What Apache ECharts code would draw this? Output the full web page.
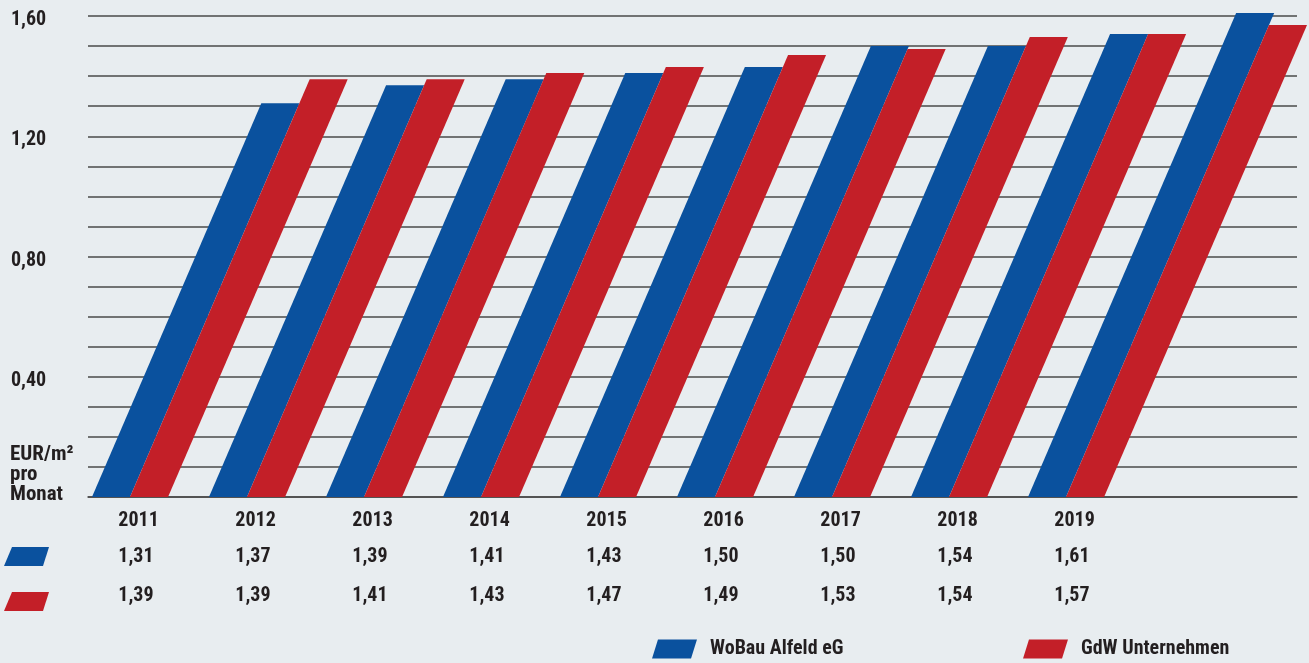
<!DOCTYPE html>
<html>
<head>
<meta charset="utf-8">
<script src="https://cdn.jsdelivr.net/npm/echarts@6/dist/echarts.min.js"></script>
<style>
html,body{margin:0;padding:0;background:#e8edf0;}
#c{width:1309px;height:663px;}
</style>
</head>
<body>
<div id="c"></div>
<script>
const years = ['2011','2012','2013','2014','2015','2016','2017','2018','2019'];
const wobau = [1.31, 1.37, 1.39, 1.41, 1.43, 1.50, 1.50, 1.54, 1.61];
const gdw   = [1.39, 1.39, 1.41, 1.43, 1.47, 1.49, 1.53, 1.54, 1.57];
const seriesNames = ['WoBau Alfeld eG', 'GdW Unternehmen'];
const yTickLabels = {0.4: '0,40', 0.8: '0,80', 1.2: '1,20', 1.6: '1,60'};
const unitLabel = 'EUR/m²\npro\nMonat';

const BLUE = '#0a519e';
const RED = '#c31f28';
const TXT = '#231f20';
const FONT = "'Liberation Sans Narrow', 'Roboto Condensed', 'DejaVu Sans Condensed', 'Noto Sans', sans-serif";

function fmt(v){ return v.toFixed(2).replace('.', ','); }

function makeRender(side, rowOffset, withYears){
  return function(params, api){
    const i = api.value(0), v = api.value(1);
    const base = api.coord([i, 0]);
    const top = api.coord([i, v]);
    const unit = api.size([1, 0])[0];
    const w = unit * 0.325;
    const slope = 0.43;
    const h = base[1] - top[1];
    const dx = h * slope;
    const x0 = side === 0 ? base[0] - w : base[0];
    const children = [{
      type: 'polygon',
      shape: {points: [[x0, base[1]], [x0 + w, base[1]], [x0 + w + dx, top[1]], [x0 + dx, top[1]]]},
      style: {fill: api.visual('color')}
    }, {
      type: 'text',
      style: {
        text: fmt(v), x: base[0] - unit * 0.1, y: base[1] + rowOffset,
        align: 'left', verticalAlign: 'middle',
        font: 'bold 20px ' + FONT, fill: TXT
      }
    }];
    if (withYears) {
      children.push({
        type: 'text',
        style: {
          text: years[i], x: base[0] - unit * 0.1, y: base[1] + 24,
          align: 'left', verticalAlign: 'middle',
          font: 'bold 20px ' + FONT, fill: TXT
        }
      });
    }
    return {type: 'group', children: children};
  };
}

const chart = echarts.init(document.getElementById('c'));
chart.setOption({
  backgroundColor: '#e8edf0',
  animation: false,
  grid: {left: 88, right: 12, top: 16, bottom: 166, containLabel: false},
  xAxis: {
    type: 'value', min: -0.359, max: 9.974,
    axisLine: {show: true, onZero: false, lineStyle: {color: '#4a4a4a', width: 1.5}},
    axisTick: {show: false}, axisLabel: {show: false}, splitLine: {show: false}
  },
  yAxis: {
    type: 'value', min: 0, max: 1.6, interval: 0.1,
    axisLine: {show: false}, axisTick: {show: false},
    splitLine: {show: true, lineStyle: {color: '#4a4a4a', width: 1.5}},
    axisLabel: {
      align: 'left', margin: 77,
      fontFamily: FONT, fontWeight: 'bold', fontSize: 20, color: TXT,
      formatter: function(v){
        const k = Math.round(v * 10) / 10;
        return yTickLabels[k] ? '{a|' + yTickLabels[k] + '}' : '';
      },
      rich: {a: {fontFamily: FONT, fontWeight: 'bold', fontSize: 20, color: TXT, padding: [8, 0, 0, 0]}}
    }
  },
  legend: [{
    data: [seriesNames[0]], left: 647, top: 634, itemWidth: 45, itemHeight: 19, itemGap: 0,
    icon: 'path://M6,0 L45,0 L39,19 L0,19 Z',
    textStyle: {fontFamily: FONT, fontWeight: 'bold', fontSize: 20, color: TXT, padding: [0, 0, 0, 8]}
  }, {
    data: [seriesNames[1]], left: 1018, top: 634, itemWidth: 45, itemHeight: 19, itemGap: 0,
    icon: 'path://M6,0 L45,0 L39,19 L0,19 Z',
    textStyle: {fontFamily: FONT, fontWeight: 'bold', fontSize: 20, color: TXT, padding: [0, 0, 0, 8]}
  }],
  graphic: [{
    type: 'text', left: 10, top: 444,
    style: {text: unitLabel, font: 'bold 21px ' + FONT, fill: TXT, lineHeight: 20}
  }, {
    type: 'polygon', shape: {points: [[12, 547], [49, 547], [43, 566], [4, 566]]}, style: {fill: BLUE}
  }, {
    type: 'polygon', shape: {points: [[12, 592], [49, 592], [43, 611], [4, 611]]}, style: {fill: RED}
  }],
  series: [{
    name: seriesNames[0], type: 'custom', color: BLUE, itemStyle: {color: BLUE},
    renderItem: makeRender(0, 60, true), clip: false,
    encode: {x: 0, y: 1},
    data: wobau.map((v, i) => [i, v])
  }, {
    name: seriesNames[1], type: 'custom', color: RED, itemStyle: {color: RED},
    renderItem: makeRender(1, 99, false), clip: false,
    encode: {x: 0, y: 1},
    data: gdw.map((v, i) => [i, v])
  }]
});
</script>
</body>
</html>
